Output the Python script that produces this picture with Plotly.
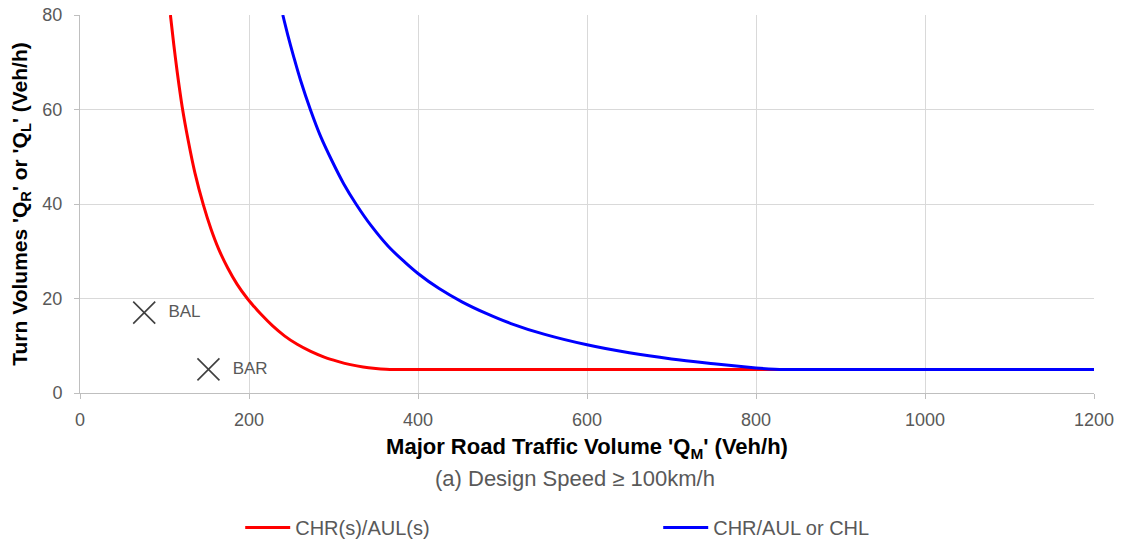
import plotly.graph_objects as go

# Red curve: CHR(s)/AUL(s)
red_x = [107, 111, 115, 121, 128, 136, 146, 155, 164, 175, 186, 198, 206, 214, 228, 242, 257,
         273, 289, 305, 320, 335, 350, 362, 372, 385, 450, 835]
red_y = [80, 73.7, 68.0, 60.5, 53.5, 46.6, 39.8, 34.7, 30.5, 26.4, 23.0, 20, 18.3, 16.7, 14.2,
         12.1, 10.3, 8.8, 7.6, 6.7, 6.0, 5.5, 5.2, 5.05, 5.0, 5.0, 5.0, 5.0]

# Blue curve: CHR/AUL or CHL
blue_x = [240, 246, 253, 261, 273, 285, 298, 312, 327, 345, 365, 385, 400, 425, 452, 480, 510,
          550, 600, 650, 700, 750, 800, 815, 828, 840, 900, 1200]
blue_y = [80, 75.7, 71.1, 66.2, 59.8, 54.2, 49.2, 44.3, 39.9, 35.3, 31.0, 27.6, 25.3, 22.1, 19.3,
          16.9, 14.7, 12.4, 10.2, 8.5, 7.2, 6.2, 5.3, 5.1, 5.0, 5.0, 5.0, 5.0]

# Point markers
pt_x = [76, 152]
pt_y = [17, 5]
pt_labels = ["BAL", "BAR"]

x_ticks = [0, 200, 400, 600, 800, 1000, 1200]
y_ticks = [0, 20, 40, 60, 80]

FONT = "Liberation Sans, Arial, sans-serif"
GRAY = "#595959"

fig = go.Figure()
fig.add_trace(go.Scatter(x=red_x, y=red_y, mode="lines", name="CHR(s)/AUL(s)",
                         line=dict(color="#FF0000", width=3, shape="spline", smoothing=0.8)))
fig.add_trace(go.Scatter(x=blue_x, y=blue_y, mode="lines", name="CHR/AUL or CHL",
                         line=dict(color="#0000FF", width=3, shape="spline", smoothing=1.0)))
fig.add_trace(go.Scatter(x=pt_x, y=pt_y, mode="markers+text",
                         text=["\u00a0\u00a0" + t for t in pt_labels],
                         textposition="middle right",
                         textfont=dict(family=FONT, size=17, color=GRAY),
                         marker=dict(symbol="x-thin", size=22, line=dict(width=1.6, color="#404040")),
                         showlegend=False, hoverinfo="skip"))

fig.update_layout(
    width=1122, height=540,
    margin=dict(l=80, r=28, t=15, b=147, autoexpand=False),
    paper_bgcolor="white", plot_bgcolor="white",
    font=dict(family=FONT, size=16, color=GRAY),
    legend=dict(orientation="h", x=0.158, y=-0.356, xanchor="left", yanchor="middle",
                entrywidth=358, entrywidthmode="pixels", itemwidth=45,
                font=dict(family=FONT, size=20, color=GRAY)),
    annotations=[dict(text="(a) Design Speed \u2265 100km/h", xref="paper", yref="paper",
                      x=0.488, y=-0.2275, xanchor="center", yanchor="middle", showarrow=False,
                      font=dict(family=FONT, size=22, color=GRAY))],
)
fig.update_xaxes(range=[0, 1200], tickvals=x_ticks, showgrid=True, gridcolor="#d9d9d9",
                 showline=True, linecolor="#bfbfbf", linewidth=1, ticks="outside", ticklen=5,
                 tickcolor="#bfbfbf", zeroline=False, ticklabelstandoff=5, automargin=False,
                 ticklabeloverflow="allow",
                 tickfont=dict(size=18, color=GRAY),
                 title=dict(text="<b>Major Road Traffic Volume 'Q<sub>M</sub>' (Veh/h)</b>",
                            font=dict(size=22, color="black"), standoff=10))
fig.update_yaxes(range=[0, 80], tickvals=y_ticks, showgrid=True, gridcolor="#d9d9d9",
                 showline=True, linecolor="#bfbfbf", linewidth=1, ticks="outside", ticklen=5,
                 tickcolor="#bfbfbf", zeroline=False, ticklabelstandoff=8, automargin=False,
                 ticklabeloverflow="allow",
                 tickfont=dict(size=18, color=GRAY),
                 title=dict(text="<b>Turn Volumes 'Q<sub>R</sub>' or 'Q<sub>L</sub>' (Veh/h)</b>",
                            font=dict(size=21, color="black"), standoff=9))

fig.write_html("out.html", config={"displayModeBar": False},
               post_script="document.body.style.margin='0px';document.body.style.padding='0px';")
